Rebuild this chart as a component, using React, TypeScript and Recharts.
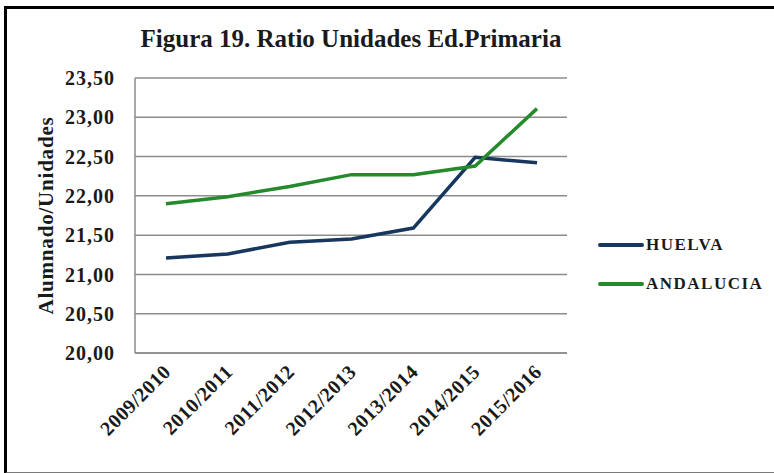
import { CartesianGrid, Legend, Line, LineChart, XAxis, YAxis } from 'recharts';

const cursos = ['2009/2010', '2010/2011', '2011/2012', '2012/2013', '2013/2014', '2014/2015', '2015/2016'];
const huelva = [21.21, 21.26, 21.41, 21.45, 21.59, 22.49, 22.42];
const andalucia = [21.9, 21.99, 22.12, 22.27, 22.27, 22.38, 23.11];
const yTicks = [20, 20.5, 21, 21.5, 22, 22.5, 23, 23.5];

const data = cursos.map((curso, i) => ({
  curso,
  huelva: huelva[i],
  andalucia: andalucia[i],
}));

const serif = '"Liberation Serif", "DejaVu Serif", serif';

const fmt = (v: number) => v.toFixed(2).replace('.', ',');

function RotatedTick({ x, y, payload }: any) {
  const tx = x + 6;
  const ty = y + 12;
  return (
    <text
      x={tx}
      y={ty}
      transform={`rotate(-45, ${tx}, ${ty})`}
      textAnchor="end"
      fontFamily={serif}
      fontWeight="bold"
      fontSize={20}
      letterSpacing={0.5}
      fill="#1a1a1a"
    >
      {payload.value}
    </text>
  );
}

function renderLegend() {
  const items = [
    { name: 'HUELVA', color: '#17375e' },
    { name: 'ANDALUCIA', color: '#258a2c' },
  ];
  return (
    <div>
      {items.map((it) => (
        <div key={it.name} style={{ display: 'flex', alignItems: 'center', height: 39 }}>
          <div style={{ width: 46, height: 4, background: it.color, borderRadius: 2 }} />
          <span
            style={{
              marginLeft: 2,
              fontFamily: serif,
              fontWeight: 'bold',
              fontSize: 17,
              letterSpacing: 1.5,
              color: '#1a1a1a',
            }}
          >
            {it.name}
          </span>
        </div>
      ))}
    </div>
  );
}

export default function App() {
  return (
    <div style={{ position: 'fixed', left: 0, top: 0, width: 774, height: 473, background: '#fff', overflow: 'hidden' }}>
      <div
        style={{
          position: 'absolute',
          left: 4,
          top: 6,
          width: 820,
          height: 463,
          borderLeft: '3px solid #000',
          borderTop: '3px solid #000',
          borderBottom: '2px solid #7a7a7a',
        }}
      />
      <div
        style={{
          position: 'absolute',
          left: 135,
          width: 432,
          top: 25,
          textAlign: 'center',
          fontFamily: serif,
          fontWeight: 'bold',
          fontSize: 25,
          color: '#1a1a1a',
        }}
      >
        Figura 19. Ratio Unidades Ed.Primaria
      </div>
      <LineChart
        width={774}
        height={473}
        data={data}
        margin={{ top: 78, right: 37, bottom: 30, left: 30 }}
        style={{ position: 'absolute', left: 0, top: 0 }}
      >
        <CartesianGrid stroke="#8c8c8c" strokeWidth={1.5} vertical={false} />
        <XAxis
          dataKey="curso"
          height={90}
          padding={{ left: 31, right: 30 }}
          axisLine={{ stroke: '#8c8c8c', strokeWidth: 1.5 }}
          tickLine={false}
          interval={0}
          tick={<RotatedTick />}
        />
        <YAxis
          width={105}
          domain={[20, 23.5]}
          ticks={yTicks}
          tickFormatter={fmt}
          axisLine={{ stroke: '#8c8c8c', strokeWidth: 1.5 }}
          tickLine={false}
          tickSize={0}
          tickMargin={20}
          tick={{ fontFamily: serif, fontWeight: 'bold', fontSize: 20, letterSpacing: 1, fill: '#1a1a1a' }}
          label={{
            value: 'Alumnado/Unidades',
            angle: -90,
            position: 'insideLeft',
            offset: 16,
            style: {
              textAnchor: 'middle',
              fontFamily: serif,
              fontWeight: 'bold',
              fontSize: 21,
              letterSpacing: 0.8,
              fill: '#1a1a1a',
            },
          }}
        />
        <Legend
          layout="vertical"
          align="right"
          verticalAlign="middle"
          content={renderLegend}
          wrapperStyle={{ left: 598, top: 225, width: 170 }}
        />
        <Line
          type="linear"
          dataKey="huelva"
          name="HUELVA"
          stroke="#17375e"
          strokeWidth={3.5}
          dot={false}
          isAnimationActive={false}
        />
        <Line
          type="linear"
          dataKey="andalucia"
          name="ANDALUCIA"
          stroke="#258a2c"
          strokeWidth={3.5}
          dot={false}
          isAnimationActive={false}
        />
      </LineChart>
    </div>
  );
}
